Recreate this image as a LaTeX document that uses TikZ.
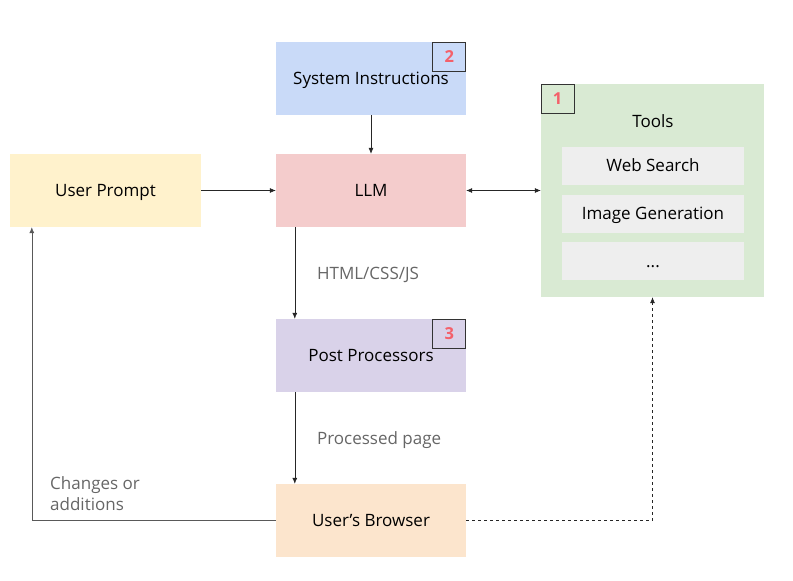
\documentclass[tikz,border=0pt]{standalone}
\usepackage{fontspec}
\setmainfont{Open Sans}
\usetikzlibrary{arrows.meta}

% Colori
\definecolor{sysblu}{HTML}{C9DAF8}
\definecolor{llmrosa}{HTML}{F4CCCC}
\definecolor{promptgiallo}{HTML}{FFF2CC}
\definecolor{toolsverde}{HTML}{D9EAD3}
\definecolor{grigiochiaro}{HTML}{EEEEEE}
\definecolor{postviola}{HTML}{D9D2E9}
\definecolor{browserarancio}{HTML}{FCE5CD}
\definecolor{badgerosso}{HTML}{F4606A}
\definecolor{testogrigio}{HTML}{666666}

\tikzset{
    testo/.style={text height=12pt, text depth=0pt},
    blocco/.style={testo, minimum width=190pt, minimum height=73pt, inner sep=0pt},
    voce/.style={testo, fill=grigiochiaro, minimum width=182pt, minimum height=38pt, inner sep=0pt},
    badge/.style={draw=black!80, line width=0.8pt, minimum width=33pt, minimum height=29pt,
        inner sep=0pt, text=badgerosso, font=\fontsize{16.5}{19}\selectfont\bfseries},
    freccia/.style={-{Latex[length=6pt,width=5pt]}, black!85, line width=0.6pt},
    etichetta/.style={text=testogrigio, inner sep=0pt}
}

\begin{document}
\begin{tikzpicture}[x=1pt, y=-1pt, font=\fontsize{17}{21}\selectfont]
        % Area del disegno
        \useasboundingbox (0,0) rectangle (793,581);
        
        % Blocchi principali
        \node[blocco, fill=sysblu] (sys) at (371,78.5) {System Instructions};
        \node[blocco, fill=llmrosa] (llm) at (371,190.5) {LLM};
        \node[blocco, fill=promptgiallo, minimum width=191pt] (prompt) at (105.5,190.5) {User Prompt};
        \node[blocco, fill=postviola] (post) at (371,355.5) {Post Processors};
        \node[blocco, fill=browserarancio] (browser) at (371,520.5) {User's Browser};
        
        % Strumenti
        \node[fill=toolsverde, minimum width=223pt, minimum height=213pt, inner sep=0pt] (tools) at (652.5,190.5) {};
        \node[testo] (toolslbl) at (653,121.5) {Tools};
        \node[voce] (web) at (653,165.7) {Web Search};
        \node[voce] (img) at (653,213.5) {Image Generation};
        \node[voce] (altro) at (653,261.3) {...};
        
        % Numeri
        \node[badge, anchor=north west] (b1) at (tools.north west) {1};
        \node[badge, anchor=north east] (b2) at (sys.north east) {2};
        \node[badge, anchor=north east] (b3) at (post.north east) {3};
        
        % Frecce
        \draw[freccia] (sys) -- (llm);
        \draw[freccia] (prompt) -- (llm);
        \draw[freccia, {Latex[length=6pt,width=5pt]}-{Latex[length=6pt,width=5pt]}] (llm) -- (tools);
        \draw[freccia] ([xshift=19pt]llm.south west) -- node[etichetta, testo, right=22pt] {HTML/CSS/JS} ([xshift=19pt]post.north west);
        \draw[freccia] ([xshift=19pt]post.south west) -- node[etichetta, testo, right=22pt] {Processed page} ([xshift=19pt]browser.north west);
        \draw[freccia, black!65] (browser.west) -| ([xshift=22pt]prompt.south west);
        \draw[freccia, dashed] (browser.east) -| (tools.south);
        
        % Ritorno
        \node[etichetta, align=left, anchor=south west] (modifiche) at (50,511) {Changes or\\additions};
    
    \end{tikzpicture}
\end{document}
